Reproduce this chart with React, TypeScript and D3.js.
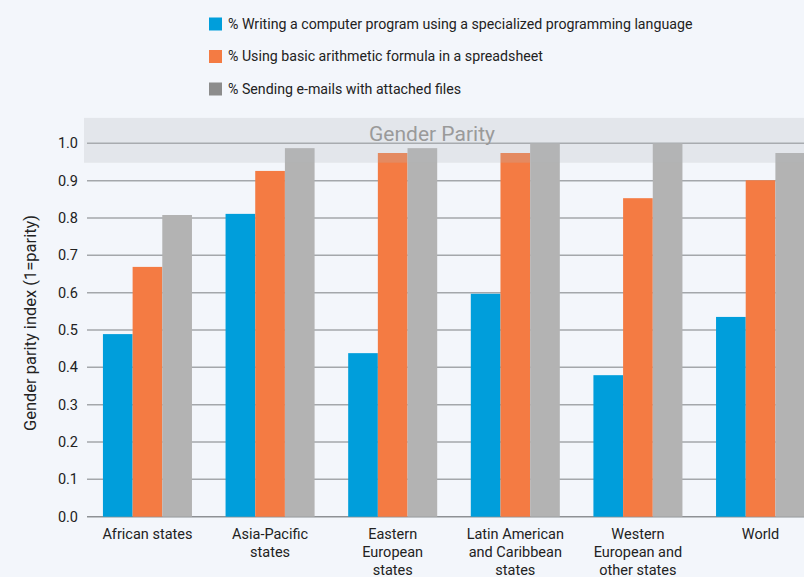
import React, { useEffect, useRef } from "react";
import * as d3 from "d3";

const categories = [
  ["African states"],
  ["Asia-Pacific", "states"],
  ["Eastern", "European", "states"],
  ["Latin American", "and Caribbean", "states"],
  ["Western", "European and", "other states"],
  ["World"],
];
const seriesNames = [
  "% Writing a computer program using a specialized programming language",
  "% Using basic arithmetic formula in a spreadsheet",
  "% Sending e-mails with attached files",
];
const programming = [0.489, 0.811, 0.438, 0.597, 0.379, 0.535];
const spreadsheet = [0.669, 0.926, 0.974, 0.974, 0.853, 0.901];
const email = [0.808, 0.987, 0.987, 1.0, 1.0, 0.974];
const yTicks = [0, 0.1, 0.2, 0.3, 0.4, 0.5, 0.6, 0.7, 0.8, 0.9, 1.0];
const parityBand = [0.948, 1.068];

const W = 804;
const H = 577;
const barColors = ["#009edb", "#f47b43", "#b3b3b3"];
const legendColors = ["#009edb", "#f47b43", "#8c8c8c"];
const FONT = "Roboto, 'Open Sans', sans-serif";

export default function App() {
  const ref = useRef<SVGSVGElement>(null);
  useEffect(() => {
    const svg = d3.select(ref.current);
    svg.selectAll("*").remove();
    const keys = categories.map((c) => c.join(" "));
    const x = d3.scaleBand().domain(keys).range([87, 821]).paddingInner(0.274).paddingOuter(0.13);
    const xs = d3.scaleBand().domain(["0", "1", "2"]).range([0, x.bandwidth()]);
    const y = d3.scaleLinear().domain([0, 1]).range([516.7, 143.3]);
    const series = [programming, spreadsheet, email];

    svg.append("rect").attr("width", W).attr("height", H).attr("fill", "#f3f6fb");

    // grid
    svg
      .append("g")
      .selectAll("line")
      .data(yTicks)
      .join("line")
      .attr("x1", 87)
      .attr("x2", W)
      .attr("y1", (d) => y(d))
      .attr("y2", (d) => y(d))
      .attr("stroke", (d) => (d === 0 ? "#8e9195" : "#a4a7ab"))
      .attr("stroke-width", 1.5);

    // bars
    const g = svg.append("g");
    keys.forEach((k, i) => {
      series.forEach((s, j) => {
        g.append("rect")
          .attr("x", (x(k) as number) + (xs(String(j)) as number))
          .attr("y", y(s[i]))
          .attr("width", xs.bandwidth())
          .attr("height", y(0) - y(s[i]))
          .attr("fill", barColors[j]);
      });
    });

    // parity band
    svg
      .append("rect")
      .attr("x", 84)
      .attr("y", y(parityBand[1]))
      .attr("width", W - 84)
      .attr("height", y(parityBand[0]) - y(parityBand[1]))
      .attr("fill", "#b4b7bb")
      .attr("opacity", 0.25);
    svg
      .append("text")
      .attr("x", 432)
      .attr("y", 140.5)
      .attr("text-anchor", "middle")
      .attr("font-family", FONT)
      .attr("font-size", 21)
      .attr("fill", "#9a9a9a")
      .text("Gender Parity");

    // y tick labels
    svg
      .append("g")
      .selectAll("text")
      .data(yTicks)
      .join("text")
      .attr("x", 78)
      .attr("y", (d) => y(d))
      .attr("dy", "0.35em")
      .attr("text-anchor", "end")
      .attr("font-family", FONT)
      .attr("font-size", 14.5)
      .attr("fill", "#222")
      .text((d) => d3.format(".1f")(d));

    // y label
    svg
      .append("text")
      .attr("transform", `translate(36,323) rotate(-90)`)
      .attr("text-anchor", "middle")
      .attr("font-family", FONT)
      .attr("font-size", 16.5)
      .attr("fill", "#222")
      .text("Gender parity index (1=parity)");

    // x labels
    keys.forEach((k, i) => {
      const t = svg
        .append("text")
        .attr("x", (x(k) as number) + x.bandwidth() / 2)
        .attr("y", 538.5)
        .attr("text-anchor", "middle")
        .attr("font-family", FONT)
        .attr("font-size", 14.5)
        .attr("fill", "#222");
      categories[i].forEach((line, li) => {
        t.append("tspan")
          .attr("x", (x(k) as number) + x.bandwidth() / 2)
          .attr("dy", li === 0 ? 0 : 18)
          .text(line);
      });
    });

    // legend
    const lg = svg.append("g");
    seriesNames.forEach((name, i) => {
      const cy = 24 + i * 32.5;
      lg.append("rect")
        .attr("x", 209)
        .attr("y", cy - 6.5)
        .attr("width", 13)
        .attr("height", 13)
        .attr("fill", legendColors[i]);
      lg.append("text")
        .attr("x", 228)
        .attr("y", cy)
        .attr("dy", "0.35em")
        .attr("font-family", FONT)
        .attr("font-size", 14.2)
        .attr("fill", "#222")
        .text(name);
    });
  }, []);
  return (
    <svg
      ref={ref}
      width={W}
      height={H}
      style={{ position: "absolute", left: 0, top: 0, display: "block" }}
    />
  );
}
